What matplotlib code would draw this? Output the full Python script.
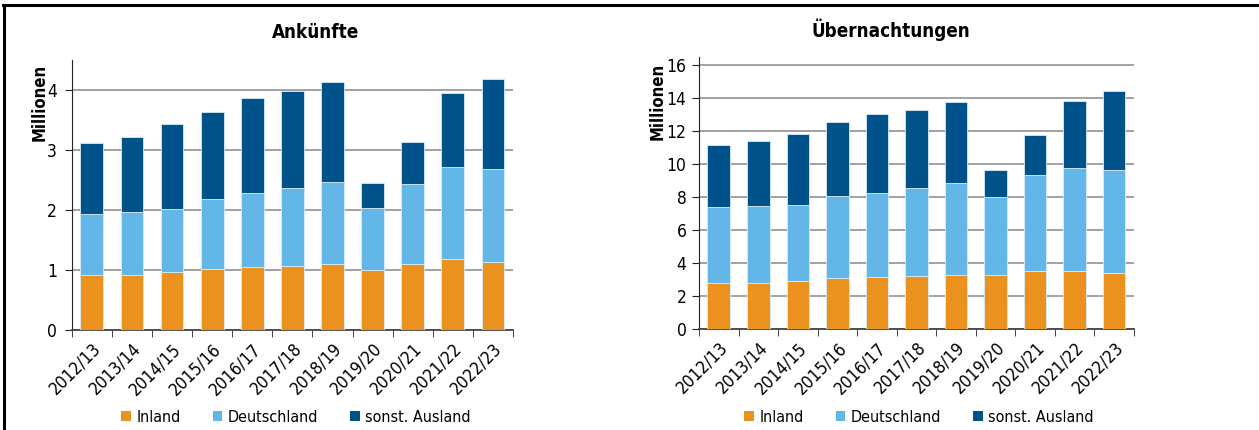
import numpy as np
import matplotlib.pyplot as plt
from matplotlib.lines import Line2D
from matplotlib.patches import Patch

plt.rcParams.update({'font.family': 'DejaVu Sans', 'font.stretch': 'condensed',
                     'font.size': 12.5})

seasons = ['2012/13', '2013/14', '2014/15', '2015/16', '2016/17', '2017/18',
           '2018/19', '2019/20', '2020/21', '2021/22', '2022/23']
series = ['Inland', 'Deutschland', 'sonst. Ausland']

# Ankuenfte, Mio.
ank_inland = [0.91, 0.92, 0.965, 1.02, 1.05, 1.065, 1.10, 1.00, 1.10, 1.18, 1.13]
ank_deutschland = [1.015, 1.04, 1.045, 1.17, 1.24, 1.305, 1.36, 1.03, 1.34, 1.53, 1.56]
ank_ausland = [1.195, 1.25, 1.42, 1.44, 1.57, 1.62, 1.68, 0.42, 0.69, 1.24, 1.50]

# Uebernachtungen, Mio.
ueb_inland = [2.78, 2.78, 2.90, 3.08, 3.14, 3.20, 3.27, 3.27, 3.51, 3.51, 3.39]
ueb_deutschland = [4.60, 4.68, 4.60, 4.99, 5.13, 5.34, 5.59, 4.72, 5.80, 6.22, 6.26]
ueb_ausland = [3.77, 3.94, 4.30, 4.48, 4.73, 4.76, 4.89, 1.64, 2.45, 4.08, 4.79]

colors = ['#EB921E', '#63B7E8', '#00538A']


def stacked(ax, parts, ymax, ystep, ypad):
    x = np.arange(len(seasons))
    bottom = np.zeros(len(seasons))
    for vals, c in zip(parts, colors):
        ax.bar(x, vals, 0.57, bottom=bottom, color=c, edgecolor='#d6ecf8',
               linewidth=0.6, zorder=3)
        bottom += np.array(vals)
    ax.set_xlim(-0.5, len(seasons) - 0.5)
    ax.set_ylim(0, ymax)
    ax.set_yticks(np.arange(0, ymax, ystep))
    ax.yaxis.grid(True, color='#9a9a9a', linewidth=1.3, zorder=0)
    ax.set_axisbelow(True)
    for s in ['top', 'right']:
        ax.spines[s].set_visible(False)
    ax.spines['left'].set_color('#222222')
    ax.spines['bottom'].set_color('#444444')
    ax.spines['bottom'].set_linewidth(1.3)
    ax.set_xticks(x)
    ax.set_xticklabels(seasons, rotation=45, ha='right', rotation_mode='anchor')
    ax.tick_params(axis='x', length=0, pad=7)
    ax.set_xticks(np.arange(-0.5, len(seasons)), minor=True)
    ax.tick_params(axis='x', which='minor', length=5, color='#222222')
    ax.tick_params(axis='y', length=5, pad=ypad, color='#222222')


fig = plt.figure(figsize=(12.59, 4.30), dpi=100)
ax1 = fig.add_axes([0.0570, 0.2326, 0.3505, 0.6279])
ax2 = fig.add_axes([0.5552, 0.2349, 0.3455, 0.6332])

stacked(ax1, [ank_inland, ank_deutschland, ank_ausland], 4.5, 1, 5.5)
stacked(ax2, [ueb_inland, ueb_deutschland, ueb_ausland], 16.5, 2, 4)

fig.text(316 / 1259, 1 - 32 / 430, 'Ankünfte', ha='center', va='center',
         fontsize=13.5, fontweight='bold')
fig.text(891 / 1259, 1 - 30 / 430, 'Übernachtungen', ha='center', va='center',
         fontsize=13.5, fontweight='bold')
fig.text(40 / 1259, 1 - 102 / 430, 'Millionen', rotation=90, ha='center',
         va='center', fontsize=12, fontweight='bold')
fig.text(658 / 1259, 1 - 101 / 430, 'Millionen', rotation=90, ha='center',
         va='center', fontsize=12, fontweight='bold')

handles = [Patch(facecolor=c, edgecolor='none') for c in colors]
for x0 in [107, 730]:
    fig.legend(handles, series, loc='center left',
               bbox_to_anchor=(x0 / 1259, 1 - 417 / 430), ncol=3,
               frameon=False, handlelength=0.6, handleheight=0.6,
               handletextpad=0.35, columnspacing=2.0, fontsize=11.5)

# frame lines
fig.add_artist(Line2D([3 / 1259, 1], [1 - 5 / 430, 1 - 5 / 430],
                      color='black', linewidth=2.2))
fig.add_artist(Line2D([4 / 1259, 4 / 1259], [0, 1 - 5 / 430],
                      color='black', linewidth=2.2))

fig.savefig('out.png', dpi=100)
